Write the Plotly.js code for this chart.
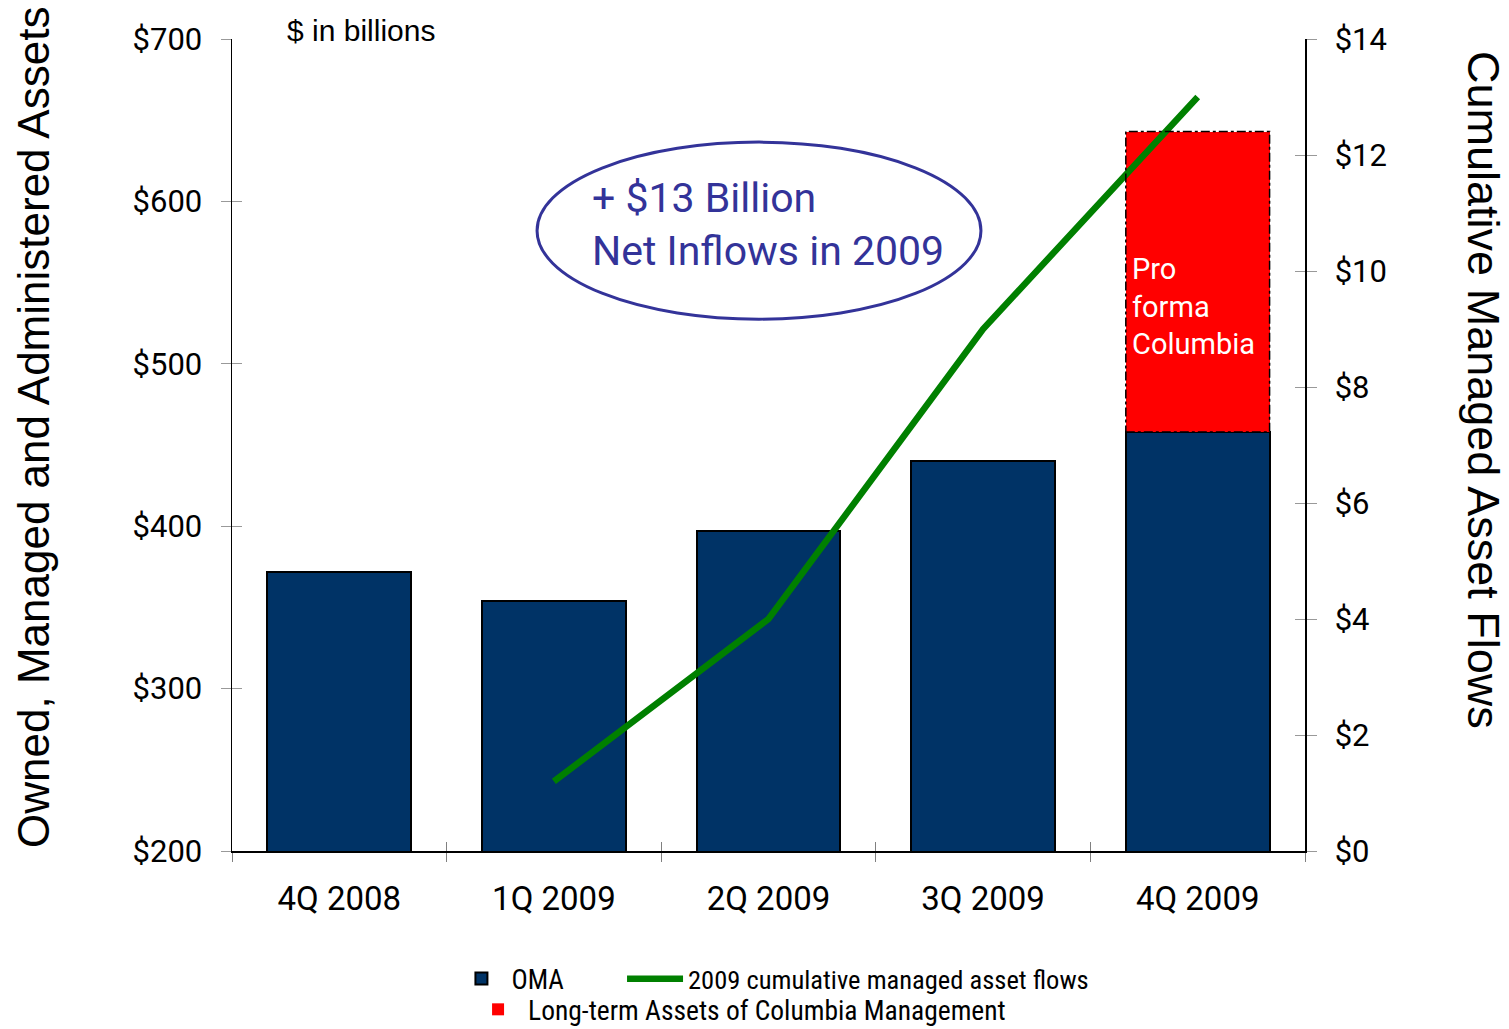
<!DOCTYPE html>
<html>
<head>
<meta charset="utf-8">
<script src="https://cdn.plot.ly/plotly-3.0.1.min.js"></script>
<style>html,body{margin:0;padding:0;background:#fff;}#chart{width:1509px;height:1029px;}</style>
</head>
<body>
<div id="chart"></div>
<script>
// ---- data ----
const quarters = ["4Q 2008", "1Q 2009", "2Q 2009", "3Q 2009", "4Q 2009"];
const omaAssets = [372, 354, 397, 440, 458];           // $ billions, left axis
const columbiaAssets = [null, null, null, null, 185];   // pro forma Columbia, stacked
const cumulativeFlows = [null, 1.2, 4.0, 9.0, 13.0];    // $ billions, right axis
const leftTicks = [200, 300, 400, 500, 600, 700];
const leftTickText = ["$200", "$300", "$400", "$500", "$600", "$700"];
const rightTicks = [0, 2, 4, 6, 8, 10, 12, 14];
const rightTickText = ["$0", "$2", "$4", "$6", "$8", "$10", "$12", "$14"];

const FR = "Roboto, 'Liberation Sans', Arial, sans-serif";
const AR = "'Liberation Sans', Arial, sans-serif";
const NAR = "'Liberation Sans Narrow', 'Roboto Condensed', Roboto, sans-serif";
const navy = "rgb(0,51,102)";
const barWidth = 0.67;

const traces = [
  {type: "bar", name: "OMA", x: quarters, y: omaAssets, width: barWidth,
   marker: {color: navy, line: {color: "#000", width: 2}}, legend: "legend", yaxis: "y", xaxis: "x"},
  {type: "bar", name: "Long-term Assets of Columbia Management", x: quarters, y: columbiaAssets, width: barWidth,
   marker: {color: "#ff0000", line: {color: "#ff0000", width: 0}}, legend: "legend2", yaxis: "y", xaxis: "x"},
  {type: "scatter", mode: "lines", name: "2009 cumulative managed asset flows", x: quarters, y: cumulativeFlows,
   line: {color: "rgb(0,128,0)", width: 6.5}, yaxis: "y2", xaxis: "x", legend: "legend3"},
  {type: "scatter", x: [], y: [], xaxis: "x2", yaxis: "y3", showlegend: false, hoverinfo: "skip"},
  {type: "scatter", x: [], y: [], xaxis: "x2", yaxis: "y4", showlegend: false, hoverinfo: "skip"}
];

const last = quarters.length - 1;
const boundaryVals = quarters.map((q, i) => i - 0.5).concat([last + 0.5]);

const legFont = {family: NAR, size: 27, color: "#000"};

const layout = {
  width: 1509, height: 1029,
  margin: {l: 232, r: 204, t: 39, b: 178},
  paper_bgcolor: "#fff", plot_bgcolor: "rgba(0,0,0,0)",
  barmode: "stack", bargap: 0.33,
  showlegend: true,
  xaxis: {type: "category", range: [-0.5, last + 0.5], showline: true, linecolor: "#000", linewidth: 1.5,
          ticks: "outside", tickson: "boundaries", ticklen: 9, tickcolor: "#808080", tickwidth: 1,
          showgrid: false, zeroline: false, tickfont: {family: FR, size: 33, color: "#000"},
          ticklabelstandoff: 18},
  xaxis2: {overlaying: "x", range: [-0.5, last + 0.5], tickmode: "array", tickvals: boundaryVals,
           ticks: "inside", ticklen: 9, tickcolor: "#808080", showticklabels: false, showline: false,
           showgrid: false, zeroline: false, fixedrange: true},
  yaxis: {range: [200, 700], tickmode: "array", tickvals: leftTicks, ticktext: leftTickText, showline: true,
          linecolor: "#000", linewidth: 1.5, ticks: "outside", ticklen: 10, tickcolor: "#999",
          showgrid: false, zeroline: false, tickfont: {family: FR, size: 31, color: "#000"},
          ticklabelstandoff: 12},
  yaxis2: {overlaying: "y", side: "right", range: [0, 14], tickmode: "array", tickvals: rightTicks,
           ticktext: rightTickText, showline: true, linecolor: "#000", linewidth: 1.5, ticks: "outside", ticklen: 10,
           tickcolor: "#999", showgrid: false, zeroline: false,
           tickfont: {family: FR, size: 31, color: "#000"}, ticklabelstandoff: 12},
  yaxis3: {overlaying: "y", side: "left", range: [200, 700], tickmode: "array", tickvals: leftTicks,
           ticks: "inside", ticklen: 10, tickcolor: "#999", showticklabels: false, showline: false,
           showgrid: false, zeroline: false},
  yaxis4: {overlaying: "y", side: "right", range: [0, 14], tickmode: "array", tickvals: rightTicks,
           ticks: "inside", ticklen: 10, tickcolor: "#999", showticklabels: false, showline: false,
           showgrid: false, zeroline: false},
  legend: {orientation: "h", x: 0.2045, xanchor: "left", yref: "container", y: 0.0486, yanchor: "middle",
           font: legFont, itemwidth: 50, bgcolor: "rgba(0,0,0,0)"},
  legend3: {orientation: "h", x: 0.3635, xanchor: "left", yref: "container", y: 0.0486, yanchor: "middle",
            font: {family: NAR, size: 26.5, color: "#000"}, itemwidth: 56, bgcolor: "rgba(0,0,0,0)"},
  legend2: {orientation: "h", x: 0.22, xanchor: "left", yref: "container", y: 0.019, yanchor: "middle",
            font: {family: NAR, size: 27.5, color: "#000"}, itemwidth: 50, bgcolor: "rgba(0,0,0,0)"},
  shapes: [
    {type: "circle", xref: "paper", yref: "paper", x0: 0.2843, x1: 0.698, y0: 0.655, y1: 0.873,
     line: {color: "#333399", width: 3}, fillcolor: "rgba(0,0,0,0)"},
    {type: "rect", xref: "x", yref: "y", x0: last - barWidth / 2, x1: last + barWidth / 2,
     y0: omaAssets[last], y1: omaAssets[last] + columbiaAssets[last],
     line: {color: "#000", width: 1.5, dash: "dashdot"}, fillcolor: "rgba(0,0,0,0)"}
  ],
  annotations: [
    {xref: "paper", yref: "paper", x: 0.049, y: 1.0099, xanchor: "left", yanchor: "middle", showarrow: false,
     text: "$ in billions", font: {family: AR, size: 30, color: "#000"}},
    {xref: "paper", yref: "paper", x: -0.1845, y: 0.521, xanchor: "center", yanchor: "middle", showarrow: false,
     textangle: -90, text: "Owned, Managed and Administered Assets", font: {family: AR, size: 44, color: "#000"}},
    {xref: "paper", yref: "paper", x: 1.1668, y: 0.5677, xanchor: "center", yanchor: "middle", showarrow: false,
     textangle: 90, text: "Cumulative Managed Asset Flows", font: {family: AR, size: 45, color: "#000"}},
    {xref: "paper", yref: "paper", x: 0.334, y: 0.771, xanchor: "left", yanchor: "middle", showarrow: false,
     align: "left", text: "+ $13 Billion<br>Net Inflows in 2009", font: {family: FR, size: 41, color: "#333399"}},
    {xref: "x", yref: "y", x: last - 0.315, y: 535, xanchor: "left", yanchor: "middle", showarrow: false,
     align: "left", text: "Pro<br>forma<br>Columbia", font: {family: FR, size: 29, color: "#fff"}}
  ]
};

Plotly.newPlot("chart", traces, layout, {displayModeBar: false, staticPlot: true});
</script>
</body>
</html>
